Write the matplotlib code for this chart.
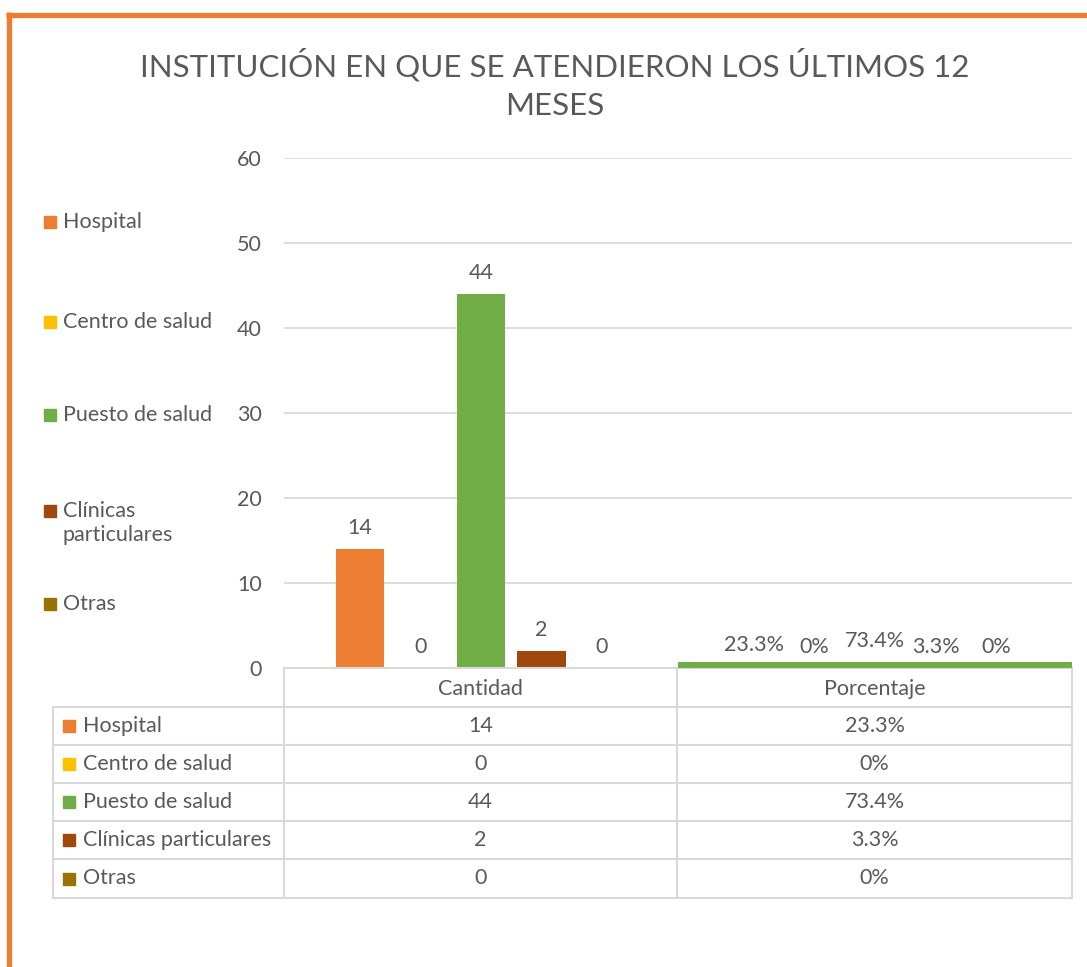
import matplotlib.pyplot as plt
import matplotlib.patches as mpatches
import numpy as np

plt.rcParams['font.family'] = ['Lato', 'DejaVu Sans']

# datos
categorias = ['Cantidad', 'Porcentaje']
series = ['Hospital', 'Centro de salud', 'Puesto de salud', 'Clínicas particulares', 'Otras']
cantidad = [14, 0, 44, 2, 0]
porcentaje = [0.233, 0, 0.734, 0.033, 0]
pct_txt = ['23.3%', '0%', '73.4%', '3.3%', '0%']
colores = ['#ED7D31', '#FFC000', '#70AD47', '#9E480E', '#997300']
titulo = 'INSTITUCIÓN EN QUE SE ATENDIERON LOS ÚLTIMOS 12\nMESES'

gris = '#595959'
linea = '#D9D9D9'
W, H = 1087, 967
fs = 15.5

fig = plt.figure(figsize=(W / 100, H / 100), dpi=100)

# capa de fondo en pixeles (borde, leyenda, tabla)
ov = fig.add_axes([0, 0, 1, 1], zorder=0)
ov.set_xlim(0, W)
ov.set_ylim(H, 0)
ov.axis('off')

# borde naranja
ov.plot([6, W], [14.5, 14.5], color='#ED7D31', lw=3.8, solid_capstyle='butt')
ov.plot([8.5, 8.5], [12, H], color='#ED7D31', lw=3.8, solid_capstyle='butt')

# titulo
fig.text(555 / W, 1 - 84 / H, titulo, ha='center', va='center', fontsize=22.5,
         color=gris, linespacing=1.45)

# leyenda izquierda
ley_y = [222, 322, 415, 511, 604]
for nombre, c, y in zip(series, colores, ley_y):
    ov.add_patch(mpatches.Rectangle((44, y - 6), 12, 12, color=c))
    txt = 'Clínicas\nparticulares' if nombre.startswith('Clínicas') else nombre
    ov.text(63, y - 10, txt, ha='left', va='top', fontsize=fs, color=gris,
            linespacing=1.25)

# tabla de datos
x_cols = [53, 284, 677, 1072]
y_rows = [707, 745, 783, 821, 859, 898]
for x in x_cols[1:]:
    ov.plot([x, x], [668, 707], color=linea, lw=1.5)
for x in x_cols:
    ov.plot([x, x], [707, 898], color=linea, lw=1.5)
for y in y_rows:
    ov.plot([53, 1072], [y, y], color=linea, lw=1.5)
for i, cat in enumerate(categorias):
    ov.text((x_cols[i + 1] + x_cols[i + 2]) / 2, 689, cat, ha='center', va='center',
            fontsize=fs, color=gris)
for j, nombre in enumerate(series):
    yc = (y_rows[j] + y_rows[j + 1]) / 2
    ov.add_patch(mpatches.Rectangle((63, yc - 6), 12, 12, color=colores[j]))
    ov.text(83, yc, nombre, ha='left', va='center', fontsize=fs, color=gris)
    ov.text((284 + 677) / 2, yc, str(cantidad[j]), ha='center', va='center',
            fontsize=fs, color=gris)
    ov.text((677 + 1072) / 2, yc, pct_txt[j], ha='center', va='center',
            fontsize=fs, color=gris)

# grafico de barras
ax = fig.add_axes([284 / W, 1 - 668 / H, 788 / W, 510 / H], zorder=1)
ax.set_facecolor('none')
ax.set_xlim(0, 2)
ax.set_ylim(0, 60)
ax.set_yticks(np.arange(0, 61, 10))
ax.set_xticks([])
ax.yaxis.grid(True, color=linea, lw=1.3)
ax.set_axisbelow(True)
for s in ['top', 'right', 'left']:
    ax.spines[s].set_visible(False)
ax.spines['bottom'].set_color(linea)
ax.spines['bottom'].set_linewidth(1.5)
ax.tick_params(axis='y', length=0, pad=16, labelsize=fs, labelcolor=gris)

paso = 0.1536
ancho = 0.122
for j in range(len(series)):
    xc = 0.5 + (j - 2) * paso
    ax.bar(xc, cantidad[j], width=ancho, color=colores[j], zorder=2)
    ax.annotate(str(cantidad[j]), (xc, cantidad[j]), xytext=(0, 8),
                textcoords='offset points', ha='center', va='bottom',
                fontsize=fs, color=gris)
    xp = 1.5 + (j - 2) * paso
    # la barra verde de porcentaje cubre todo el ancho de la categoria
    w = 1.0 if j == 2 else ancho
    ax.bar(1.5 if j == 2 else xp, porcentaje[j], width=w,
           color=colores[j], zorder=3 if j == 2 else 2)
    ax.annotate(pct_txt[j], (xp, porcentaje[j]), xytext=(0, 8),
                textcoords='offset points', ha='center', va='bottom',
                fontsize=fs, color=gris)

fig.savefig('out.png', dpi=100)
